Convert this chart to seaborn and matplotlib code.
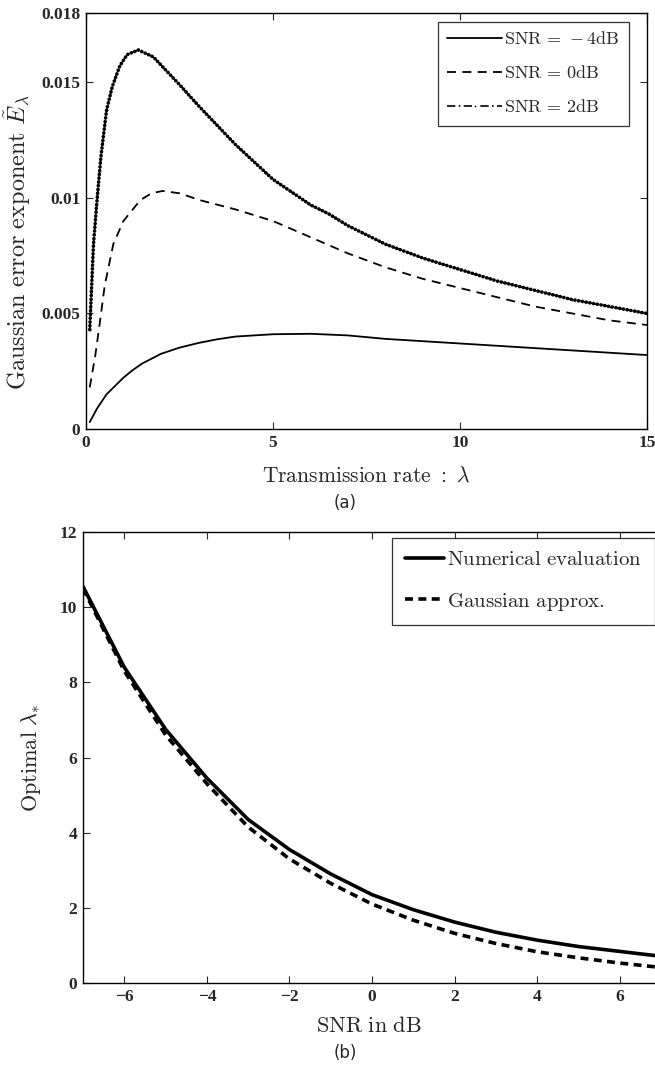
#!/usr/bin/env python3
"""Gaussian error exponent vs. transmission rate, and optimal lambda vs. SNR."""

import numpy as np
import pandas as pd
import matplotlib
matplotlib.use("Agg")
import matplotlib.pyplot as plt
import seaborn as sns

# Panel (a): error exponent curves
lam_m4 = [0.1, 0.3, 0.55, 0.8, 1, 1.25, 1.5, 2, 2.5, 3, 3.5, 4, 5, 6, 7, 8, 9, 10, 11,
          12, 13, 14, 15]
exp_m4 = [0.0003, 0.0009, 0.0015, 0.0019, 0.00222, 0.00255, 0.00283, 0.00325, 0.00352,
          0.00372, 0.00388, 0.0040, 0.0041, 0.00412, 0.00405, 0.0039, 0.0038, 0.0037,
          0.0036, 0.0035, 0.0034, 0.0033, 0.0032]

lam_0 = [0.1, 0.25, 0.37, 0.5, 0.73, 1, 1.15, 1.45, 1.75, 2.05, 2.5, 3.05, 4, 5, 6, 7,
         8, 9, 10, 11, 12, 13, 14, 15]
exp_0 = [0.0018, 0.0032, 0.0046, 0.0062, 0.0080, 0.0090, 0.0093, 0.0099, 0.0102, 0.0103,
         0.0102, 0.0099, 0.0095, 0.0090, 0.0083, 0.0076, 0.0070, 0.0065, 0.0061, 0.0057,
         0.0053, 0.0050, 0.0047, 0.0045]

lam_2 = [0.1, 0.2, 0.3, 0.4, 0.55, 0.7, 0.9, 1.1, 1.4, 1.8, 2.5, 3, 4, 5, 6, 6.5, 7, 8,
         9, 10, 11, 12, 13, 14, 15]
exp_2 = [0.0043, 0.0080, 0.0100, 0.0118, 0.0138, 0.0148, 0.0157, 0.0162, 0.0164, 0.0161,
         0.0149, 0.0140, 0.0123, 0.0108, 0.0097, 0.0093, 0.0088, 0.0080, 0.0074, 0.0069,
         0.0064, 0.0060, 0.0056, 0.0053, 0.0050]

# Panel (b): optimal lambda vs SNR
snr_db = [-7, -6, -5, -4, -3, -2, -1, 0, 1, 2, 3, 4, 5, 6, 6.85]
lam_numerical = [10.55, 8.4, 6.75, 5.45, 4.35, 3.55, 2.9, 2.35, 1.95, 1.62, 1.35, 1.14,
                 0.97, 0.84, 0.73]
lam_gaussian = [10.5, 8.3, 6.6, 5.3, 4.15, 3.3, 2.65, 2.1, 1.67, 1.32, 1.05, 0.83, 0.67,
                0.53, 0.43]

sns.set_style("ticks")
plt.rcParams["mathtext.fontset"] = "cm"
plt.rcParams["font.family"] = ["Liberation Serif", "DejaVu Serif"]


def style_axes(ax):
    ax.tick_params(direction="in", length=5, width=0.8, top=True, right=True,
                   labelsize=12.5, pad=4)
    for lbl in ax.get_xticklabels() + ax.get_yticklabels():
        lbl.set_fontfamily("Liberation Serif")
        lbl.set_fontweight("bold")
    for sp in ax.spines.values():
        sp.set_linewidth(1.0)
        sp.set_color("black")


fig = plt.figure(figsize=(6.55, 10.66), dpi=100)

# ---------------- panel (a)
ax1 = fig.add_axes([86 / 655, 1 - 429 / 1066, 561 / 655, 416 / 1066])
sns.lineplot(x=lam_m4, y=exp_m4, ax=ax1, color="black", linewidth=1.3,
             label=r"$\mathrm{SNR}\,=\,-4\mathrm{dB}$")
sns.lineplot(x=lam_0, y=exp_0, ax=ax1, color="black", linewidth=1.3,
             linestyle=(0, (5, 3.5)), label=r"$\mathrm{SNR}\,=\,0\mathrm{dB}$")
sns.lineplot(x=lam_2, y=exp_2, ax=ax1, color="black", linewidth=1.2,
             linestyle=(0, (5, 2, 1, 2)), marker=".", markersize=4,
             label=r"$\mathrm{SNR}\,=\,2\mathrm{dB}$")
# dense dot pattern riding on the dash-dot curve
ax1.plot(lam_2, exp_2, color="black", linewidth=2.6,
         linestyle=(0, (0.05, 1.0)), dash_capstyle="round")

ax1.set_xlim(0, 15)
ax1.set_ylim(0, 0.018)
ax1.set_xticks([0, 5, 10, 15])
ax1.set_xticklabels(["0", "5", "10", "15"])
ax1.set_yticks([0, 0.005, 0.01, 0.015, 0.018])
ax1.set_yticklabels(["0", "0.005", "0.01", "0.015", "0.018"])
style_axes(ax1)
ax1.set_xlabel(r"$\mathrm{Transmission\ rate\ :}\ \lambda$", fontsize=15.5, labelpad=12)
ax1.set_ylabel(r"$\mathrm{Gaussian\ error\ exponent}\ \tilde{E}_{\lambda}$", fontsize=17.5)
ax1.yaxis.set_label_coords(-0.094, 0.45)
leg1 = ax1.legend(loc="upper right", bbox_to_anchor=(0.968, 0.978), frameon=True,
                  fancybox=False, edgecolor="black", fontsize=13, handlelength=3.0,
                  handletextpad=0.15, borderpad=0.5, labelspacing=0.95,
                  borderaxespad=0)
leg1.get_frame().set_linewidth(0.9)

fig.text(0.527, 1 - 503 / 1066, "(a)", ha="center", va="center",
         fontsize=12, family="DejaVu Sans")

# ---------------- panel (b)
ax2 = fig.add_axes([83 / 655, 1 - 983 / 1066, 572 / 655, 451 / 1066])
sns.lineplot(x=snr_db, y=lam_numerical, ax=ax2, color="black", linewidth=2.6,
             label=r"$\mathrm{Numerical\ evaluation}$")
sns.lineplot(x=snr_db, y=lam_gaussian, ax=ax2, color="black", linewidth=2.6,
             linestyle=(0, (2.2, 1.5)), label=r"$\mathrm{Gaussian\ approx.}$")

ax2.set_xlim(-7, 6.85)
ax2.set_ylim(0, 12)
ax2.set_xticks([-6, -4, -2, 0, 2, 4, 6])
ax2.set_xticklabels(["\u22126", "\u22124", "\u22122", "0", "2", "4", "6"])
ax2.set_yticks(range(0, 13, 2))
style_axes(ax2)
ax2.spines["right"].set_visible(False)
ax2.tick_params(right=False)
ax2.set_xlabel(r"$\mathrm{SNR\ in\ dB}$", fontsize=16, labelpad=9)
ax2.set_ylabel(r"$\mathrm{Optimal}\ \lambda_{*}$", fontsize=16, labelpad=12)
leg2 = ax2.legend(loc="upper right", bbox_to_anchor=(1.0, 0.987), frameon=True,
                  fancybox=False, edgecolor="black", fontsize=15, handlelength=1.9,
                  handletextpad=0.15, borderpad=0.6, labelspacing=1.0,
                  borderaxespad=0)
leg2.get_frame().set_linewidth(0.9)

fig.text(0.527, 1 - 1053 / 1066, "(b)", ha="center", va="center",
         fontsize=12, family="DejaVu Sans")

fig.savefig("out.png", dpi=100)
